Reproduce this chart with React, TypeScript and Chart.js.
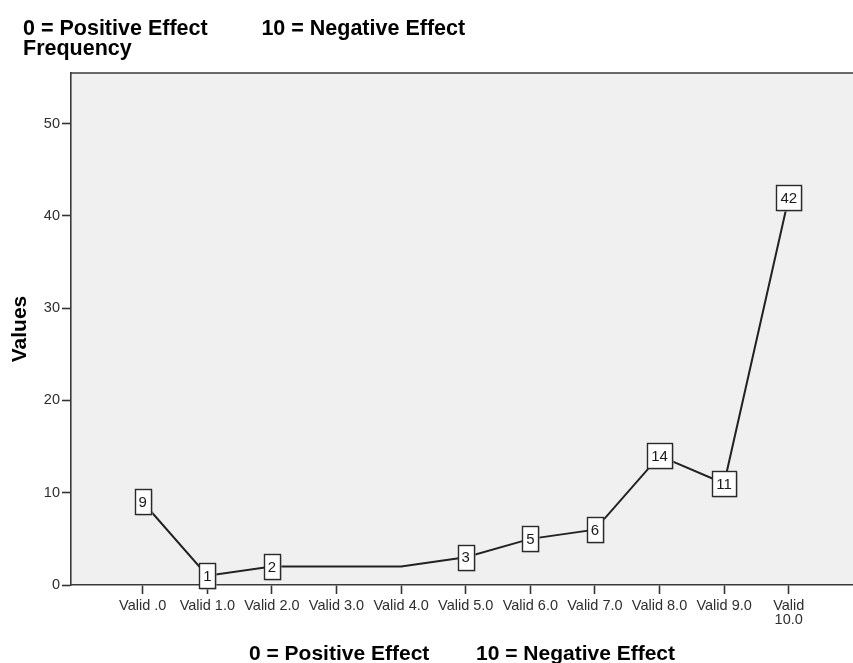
import React, { useEffect, useRef } from "react";
import { Chart, registerables } from "chart.js";

Chart.register(...registerables);

const categories = [
  "Valid .0",
  "Valid 1.0",
  "Valid 2.0",
  "Valid 3.0",
  "Valid 4.0",
  "Valid 5.0",
  "Valid 6.0",
  "Valid 7.0",
  "Valid 8.0",
  "Valid 9.0",
  "Valid 10.0",
];
const frequencies = [9, 1, 2, 2, 2, 3, 5, 6, 14, 11, 42];
const pointLabels: (number | null)[] = [9, 1, 2, null, null, 3, 5, 6, 14, 11, 42];
const yTicks = [0, 10, 20, 30, 40, 50];
const headerLines = ["0 = Positive Effect         10 = Negative Effect", "Frequency"];
const xTitle = "0 = Positive Effect        10 = Negative Effect";
const yTitle = "Values";

const FONT = "'Liberation Sans', Arial, Helvetica, sans-serif";

const backgroundPlugin = {
  id: "plotBackground",
  beforeDraw(chart: any) {
    const { ctx, chartArea } = chart;
    ctx.save();
    ctx.fillStyle = "#ffffff";
    ctx.fillRect(0, 0, chart.width, chart.height);
    ctx.fillStyle = "#f0f0f0";
    ctx.fillRect(chartArea.left, chartArea.top, chartArea.right - chartArea.left, chartArea.bottom - chartArea.top);
    ctx.restore();
  },
  afterDraw(chart: any) {
    const { ctx, chartArea } = chart;
    ctx.save();
    ctx.strokeStyle = "#3a3a3a";
    ctx.lineWidth = 1.5;
    ctx.beginPath();
    ctx.moveTo(chartArea.left, chartArea.top);
    ctx.lineTo(chartArea.right, chartArea.top);
    ctx.stroke();
    ctx.fillStyle = "#000000";
    ctx.font = `bold 21.5px ${FONT}`;
    ctx.textAlign = "left";
    ctx.textBaseline = "alphabetic";
    headerLines.forEach((line, i) => {
      ctx.fillText(line, 23, 35 + i * 20);
    });
    ctx.restore();
  },
};

const valueLabelPlugin = {
  id: "valueLabels",
  afterDatasetsDraw(chart: any) {
    const { ctx } = chart;
    const meta = chart.getDatasetMeta(0);
    ctx.save();
    ctx.font = `15px ${FONT}`;
    ctx.textAlign = "center";
    ctx.textBaseline = "middle";
    meta.data.forEach((pt: any, i: number) => {
      const v = pointLabels[i];
      if (v === null || v === undefined) return;
      const txt = String(v);
      const w = Math.round(ctx.measureText(txt).width + 8);
      const h = 25;
      const x = Math.round(pt.x - w / 2) + 0.5;
      const y = Math.round(pt.y - h / 2) + 0.5;
      ctx.fillStyle = "#b8b8b8";
      ctx.fillRect(x + 1, y + 1, w, h);
      ctx.fillStyle = "#ffffff";
      ctx.fillRect(x, y, w, h);
      ctx.strokeStyle = "#2a2a2a";
      ctx.lineWidth = 1.4;
      ctx.strokeRect(x, y, w, h);
      ctx.fillStyle = "#1a1a1a";
      ctx.fillText(txt, pt.x, pt.y + 1);
    });
    ctx.restore();
  },
};

export default function App() {
  const canvasRef = useRef<HTMLCanvasElement | null>(null);

  useEffect(() => {
    const canvas = canvasRef.current;
    if (!canvas) return;
    const chart = new Chart(canvas, {
      type: "line",
      data: {
        datasets: [
          {
            label: "Frequency",
            data: categories.map((_, i) => ({ x: i, y: frequencies[i] })),
            borderColor: "#222222",
            borderWidth: 2,
            pointRadius: 0,
            pointHoverRadius: 0,
            tension: 0,
            fill: false,
          },
        ],
      },
      options: {
        animation: false,
        responsive: false,
        devicePixelRatio: 1,
        layout: { padding: { top: 73, left: 0, right: 0, bottom: 0 } },
        plugins: {
          legend: { display: false },
          tooltip: { enabled: false },
          title: { display: false },
        },
        scales: {
          x: {
            type: "linear",
            min: -1.11,
            max: 10.995,
            afterBuildTicks: (scale: any) => {
              scale.ticks = categories.map((_, i) => ({ value: i }));
            },
            afterFit: (scale: any) => {
              scale.height = 78;
            },
            ticks: {
              autoSkip: false,
              maxRotation: 0,
              minRotation: 0,
              padding: 5,
              color: "#2e2e2e",
              font: { family: FONT, size: 14.5, lineHeight: 0.95 },
              callback: (v: any) => {
                const label = categories[Number(v)];
                if (label === undefined) return "";
                return label.length > 9 ? label.split(" ") : label;
              },
            },
            grid: {
              drawOnChartArea: false,
              drawTicks: true,
              tickLength: 9,
              tickWidth: 1.6,
              tickColor: "#333333",
            },
            border: { display: true, color: "#3a3a3a", width: 1.6 },
            title: {
              display: true,
              text: xTitle,
              color: "#000000",
              font: { family: FONT, size: 21, weight: "bold", lineHeight: 1 },
              padding: { top: 0, bottom: -1.5 },
            },
          },
          y: {
            type: "linear",
            min: 0,
            max: 55.5,
            afterBuildTicks: (scale: any) => {
              scale.ticks = yTicks.map((v) => ({ value: v }));
            },
            afterFit: (scale: any) => {
              scale.width = 71;
            },
            ticks: {
              padding: 2,
              color: "#2e2e2e",
              font: { family: FONT, size: 14.5 },
            },
            grid: {
              drawOnChartArea: false,
              drawTicks: true,
              tickLength: 9,
              tickWidth: 1.6,
              tickColor: "#333333",
            },
            border: { display: true, color: "#3a3a3a", width: 1.6 },
            title: {
              display: true,
              text: yTitle,
              color: "#000000",
              font: { family: FONT, size: 21, weight: "bold", lineHeight: 1 },
              padding: { top: 10, bottom: 0 },
            },
          },
        },
      },
      plugins: [backgroundPlugin, valueLabelPlugin],
    } as any);
    return () => chart.destroy();
  }, []);

  return (
    <canvas
      ref={canvasRef}
      width={853}
      height={663}
      style={{ position: "fixed", left: 0, top: 0, width: 853, height: 663, display: "block" }}
    />
  );
}
